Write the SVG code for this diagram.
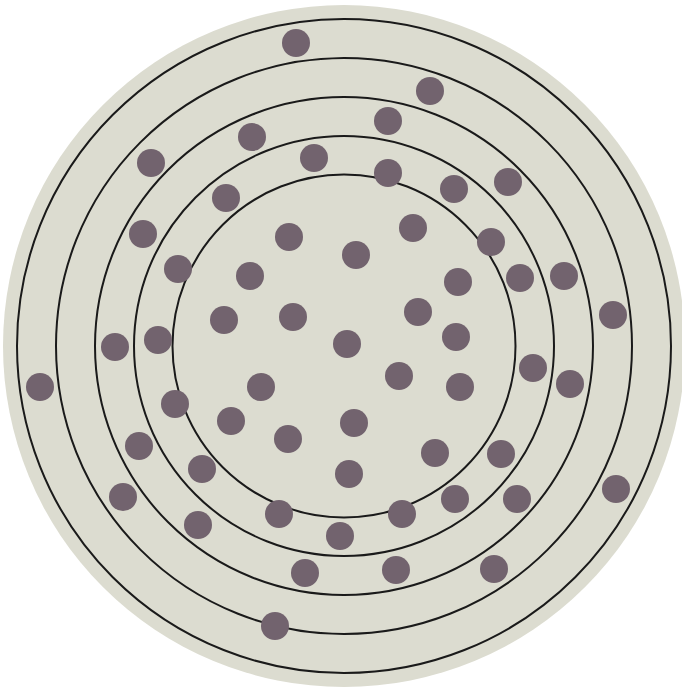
<svg xmlns="http://www.w3.org/2000/svg" width="682" height="688" viewBox="0 0 682 688">
<style>
.ring{fill:none;stroke:#1a1a1a;stroke-width:2}
.dot{fill:#72636e}
</style>
<rect width="682" height="688" fill="#ffffff"/>
<circle cx="344" cy="346" r="341" fill="#dcdcd0"/>
<g id="rings">
<circle class="ring" cx="344" cy="346" r="327"/>
<circle class="ring" cx="344" cy="346" r="288"/>
<circle class="ring" cx="344" cy="346" r="249"/>
<circle class="ring" cx="344" cy="346" r="210"/>
<circle class="ring" cx="344" cy="346" r="171.5"/>
</g>
<g id="dots">
<circle class="dot" cx="296" cy="43" r="14"/>
<circle class="dot" cx="430" cy="91" r="14"/>
<circle class="dot" cx="388" cy="121" r="14"/>
<circle class="dot" cx="252" cy="137" r="14"/>
<circle class="dot" cx="151" cy="163" r="14"/>
<circle class="dot" cx="314" cy="158" r="14"/>
<circle class="dot" cx="388" cy="173" r="14"/>
<circle class="dot" cx="454" cy="189" r="14"/>
<circle class="dot" cx="508" cy="182" r="14"/>
<circle class="dot" cx="226" cy="198" r="14"/>
<circle class="dot" cx="143" cy="234" r="14"/>
<circle class="dot" cx="289" cy="237" r="14"/>
<circle class="dot" cx="413" cy="228" r="14"/>
<circle class="dot" cx="356" cy="255" r="14"/>
<circle class="dot" cx="491" cy="242" r="14"/>
<circle class="dot" cx="178" cy="269" r="14"/>
<circle class="dot" cx="250" cy="276" r="14"/>
<circle class="dot" cx="458" cy="282" r="14"/>
<circle class="dot" cx="520" cy="278" r="14"/>
<circle class="dot" cx="564" cy="276" r="14"/>
<circle class="dot" cx="613" cy="315" r="14"/>
<circle class="dot" cx="224" cy="320" r="14"/>
<circle class="dot" cx="293" cy="317" r="14"/>
<circle class="dot" cx="418" cy="312" r="14"/>
<circle class="dot" cx="115" cy="347" r="14"/>
<circle class="dot" cx="158" cy="340" r="14"/>
<circle class="dot" cx="347" cy="344" r="14"/>
<circle class="dot" cx="456" cy="337" r="14"/>
<circle class="dot" cx="40" cy="387" r="14"/>
<circle class="dot" cx="261" cy="387" r="14"/>
<circle class="dot" cx="399" cy="376" r="14"/>
<circle class="dot" cx="460" cy="387" r="14"/>
<circle class="dot" cx="533" cy="368" r="14"/>
<circle class="dot" cx="570" cy="384" r="14"/>
<circle class="dot" cx="175" cy="404" r="14"/>
<circle class="dot" cx="231" cy="421" r="14"/>
<circle class="dot" cx="354" cy="423" r="14"/>
<circle class="dot" cx="288" cy="439" r="14"/>
<circle class="dot" cx="139" cy="446" r="14"/>
<circle class="dot" cx="435" cy="453" r="14"/>
<circle class="dot" cx="501" cy="454" r="14"/>
<circle class="dot" cx="202" cy="469" r="14"/>
<circle class="dot" cx="349" cy="474" r="14"/>
<circle class="dot" cx="123" cy="497" r="14"/>
<circle class="dot" cx="455" cy="499" r="14"/>
<circle class="dot" cx="517" cy="499" r="14"/>
<circle class="dot" cx="616" cy="489" r="14"/>
<circle class="dot" cx="198" cy="525" r="14"/>
<circle class="dot" cx="279" cy="514" r="14"/>
<circle class="dot" cx="402" cy="514" r="14"/>
<circle class="dot" cx="340" cy="536" r="14"/>
<circle class="dot" cx="305" cy="573" r="14"/>
<circle class="dot" cx="396" cy="570" r="14"/>
<circle class="dot" cx="494" cy="569" r="14"/>
<circle class="dot" cx="275" cy="626" r="14"/>
</g>
</svg>
